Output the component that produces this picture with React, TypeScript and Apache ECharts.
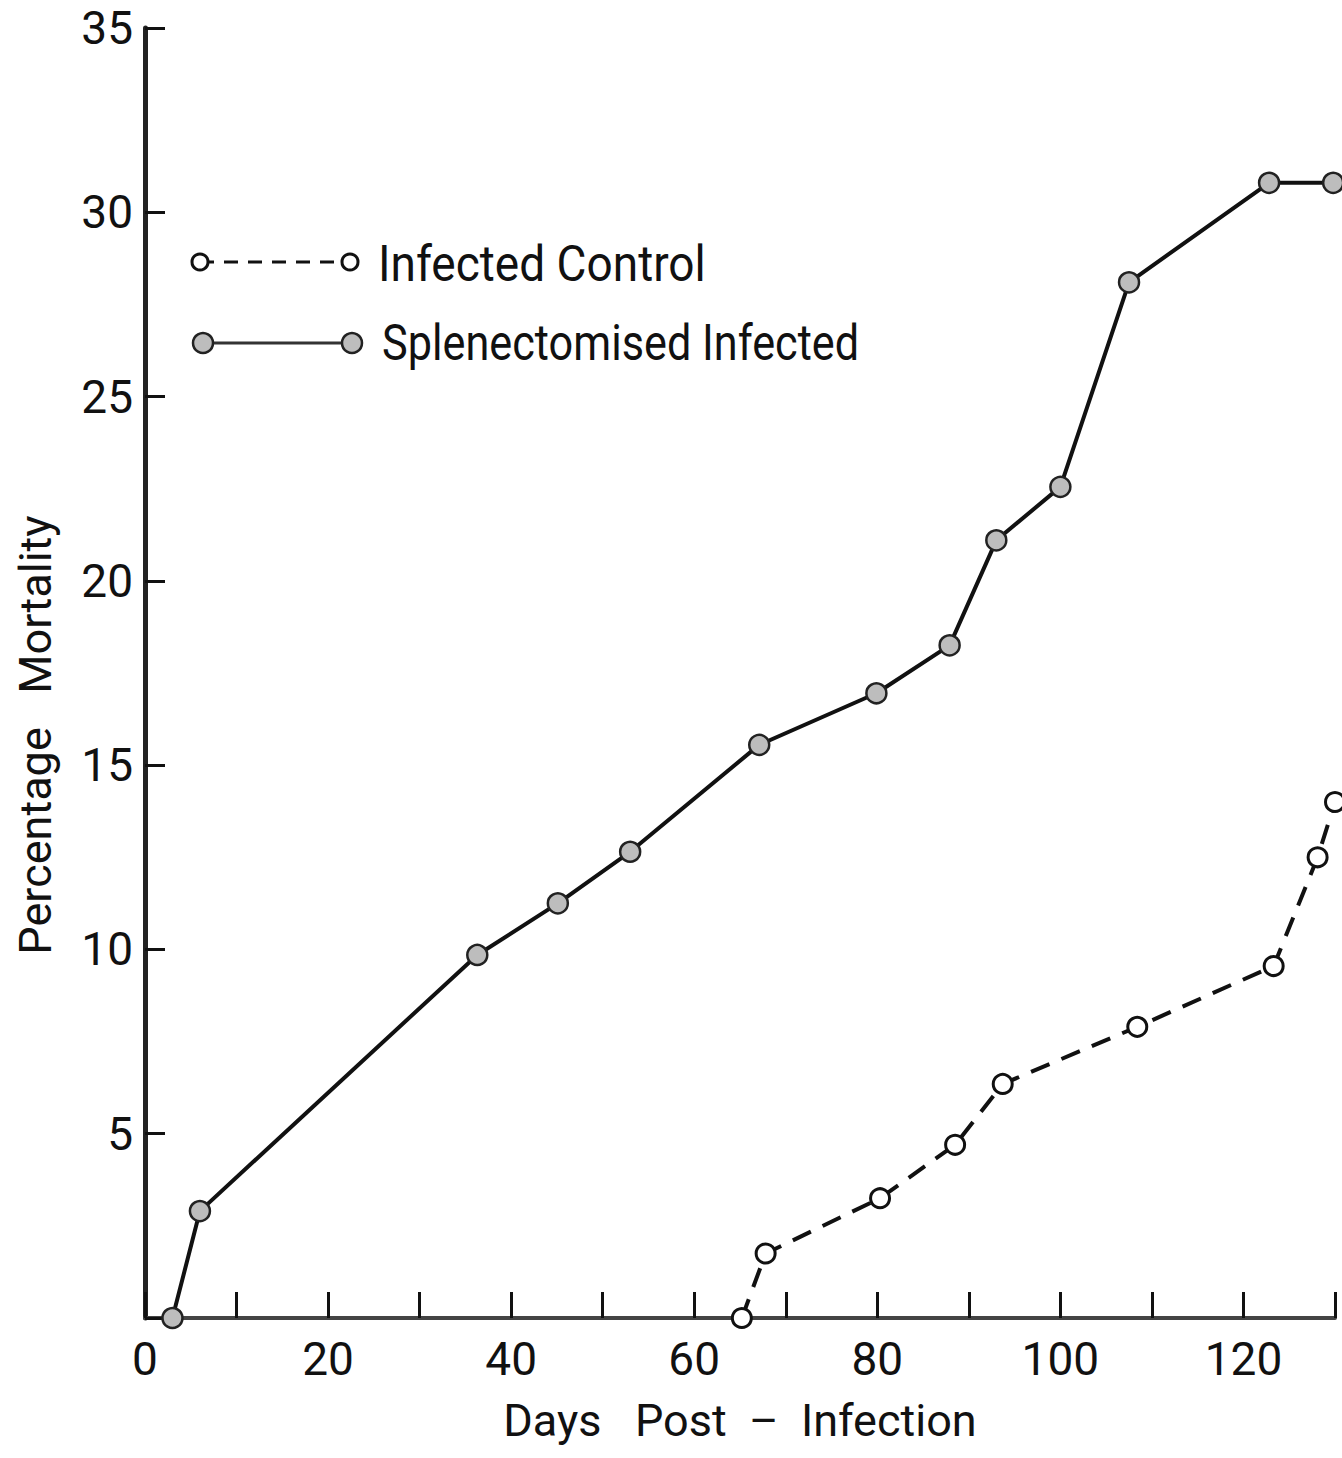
import React, { useEffect, useRef } from "react";
import * as echarts from "echarts";

const splenDays = [3, 6, 36.3, 45.1, 53, 67.1, 79.9, 87.9, 93, 100, 107.5, 122.8, 129.8];
const splenMortality = [0, 2.9, 9.85, 11.25, 12.65, 15.55, 16.95, 18.25, 21.1, 22.55, 28.1, 30.8, 30.8];

const controlDays = [65.2, 67.8, 80.3, 88.5, 93.7, 108.4, 123.3, 128.1, 130];
const controlMortality = [0, 1.75, 3.25, 4.7, 6.35, 7.9, 9.55, 12.5, 14];

const seriesNames = ["Infected Control", "Splenectomised Infected"];
const xAxisTitle = "Days   Post  –  Infection";
const yAxisTitle = "Percentage   Mortality";

const FONT = "Roboto, 'DejaVu Sans', sans-serif";

export default function App() {
  const ref = useRef<HTMLDivElement>(null);
  useEffect(() => {
    if (!ref.current) return;
    const chart = echarts.init(ref.current, null, { renderer: "svg" });
    const splenData = splenDays.map((d, i) => [d, splenMortality[i]]);
    const controlData = controlDays.map((d, i) => [d, controlMortality[i]]);
    chart.setOption({
      animation: false,
      backgroundColor: "#ffffff",
      grid: {
        left: 145,
        top: 28,
        right: 7,
        bottom: 140,
        containLabel: false,
        outerBoundsMode: "none",
      },
      xAxis: {
        type: "value",
        min: 0,
        max: 130,
        interval: 10,
        name: xAxisTitle,
        nameLocation: "middle",
        nameGap: 80,
        nameTextStyle: { fontFamily: FONT, fontSize: 45, color: "#111" },
        axisLine: { show: true, lineStyle: { color: "#444", width: 4 } },
        axisTick: { show: true, inside: true, length: 26, lineStyle: { color: "#111", width: 3 } },
        axisLabel: {
          fontFamily: FONT,
          fontSize: 46,
          color: "#111",
          margin: 18,
          formatter: (v: number) => (v % 20 === 0 ? String(v) : ""),
        },
        splitLine: { show: false },
      },
      yAxis: {
        type: "value",
        min: 0,
        max: 35,
        interval: 5,
        axisLine: { show: true, lineStyle: { color: "#222", width: 5 } },
        axisTick: { show: true, inside: true, length: 20, lineStyle: { color: "#111", width: 3 } },
        axisLabel: {
          fontFamily: FONT,
          fontSize: 46,
          color: "#111",
          margin: 12,
          formatter: (v: number) => (v === 0 ? "" : String(v)),
        },
        splitLine: { show: false },
      },
      graphic: [
        {
          type: "text",
          x: 35,
          y: 735,
          rotation: Math.PI / 2,
          style: {
            text: yAxisTitle,
            fontFamily: FONT,
            fontSize: 45,
            fill: "#111",
            align: "center",
            verticalAlign: "middle",
          },
        },
        // legend: infected control
        {
          type: "line",
          shape: { x1: 200, y1: 262, x2: 350, y2: 262 },
          style: { stroke: "#111", lineWidth: 3, lineDash: [14, 10] },
        },
        { type: "circle", shape: { cx: 200, cy: 262, r: 8 }, style: { fill: "#fff", stroke: "#111", lineWidth: 3 } },
        { type: "circle", shape: { cx: 350, cy: 262, r: 8 }, style: { fill: "#fff", stroke: "#111", lineWidth: 3 } },
        {
          type: "text",
          x: 378,
          y: 264,
          scaleX: 0.92,
          style: {
            text: seriesNames[0],
            fontFamily: FONT,
            fontSize: 50,
            fill: "#111",
            verticalAlign: "middle",
          },
        },
        // legend: splenectomised
        {
          type: "line",
          shape: { x1: 203, y1: 343, x2: 352, y2: 343 },
          style: { stroke: "#333", lineWidth: 3 },
        },
        { type: "circle", shape: { cx: 203, cy: 343, r: 10 }, style: { fill: "#bdbdbd", stroke: "#222", lineWidth: 2.5 } },
        { type: "circle", shape: { cx: 352, cy: 343, r: 10 }, style: { fill: "#bdbdbd", stroke: "#222", lineWidth: 2.5 } },
        {
          type: "text",
          x: 382,
          y: 343,
          scaleX: 0.865,
          style: {
            text: seriesNames[1],
            fontFamily: FONT,
            fontSize: 50,
            fill: "#111",
            verticalAlign: "middle",
          },
        },
      ],
      series: [
        {
          name: seriesNames[1],
          type: "line",
          data: splenData,
          clip: false,
          symbol: "circle",
          symbolSize: 20,
          lineStyle: { color: "#111", width: 4 },
          itemStyle: { color: "#bdbdbd", borderColor: "#222", borderWidth: 2.5 },
          z: 3,
        },
        {
          name: seriesNames[0],
          type: "line",
          data: controlData,
          clip: false,
          symbol: "circle",
          symbolSize: 19,
          showAllSymbol: true,
          lineStyle: { color: "#111", width: 4, type: [20, 13] },
          itemStyle: { color: "#ffffff", borderColor: "#111", borderWidth: 3 },
          z: 3,
        },
      ],
    });
    return () => chart.dispose();
  }, []);
  return (
    <div
      ref={ref}
      style={{ position: "fixed", left: 0, top: 0, width: 1342, height: 1458, background: "#fff" }}
    />
  );
}
